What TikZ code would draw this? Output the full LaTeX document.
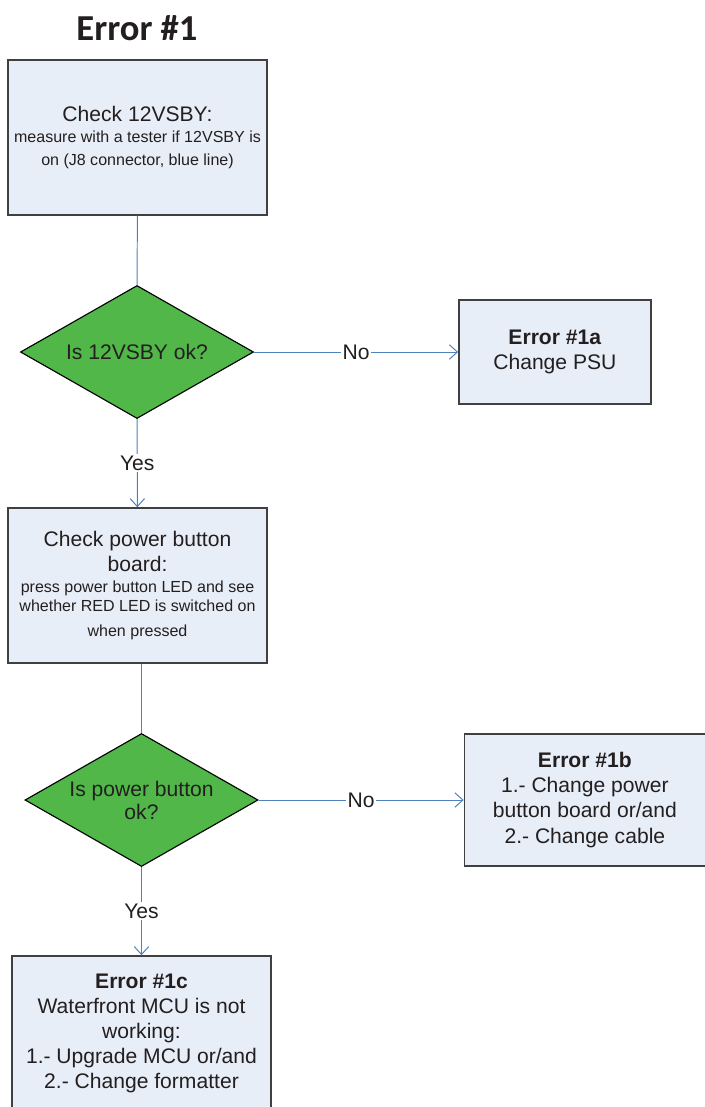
\documentclass[tikz,border=0pt]{standalone}
\usepackage{fontspec}
\setmainfont{Liberation Sans}
\newfontfamily\titlefont{Carlito}
\definecolor{boxblue}{RGB}{232, 238, 247}
\definecolor{decgreen}{RGB}{80, 183, 72}
\definecolor{linkblue}{RGB}{79, 129, 189}
\definecolor{edgegray}{RGB}{64, 64, 64}
\definecolor{inkgray}{RGB}{35, 31, 32}
\usetikzlibrary{arrows.meta, positioning, shapes.geometric}
\newcommand{\smalltext}{\fontsize{11.4}{16.4}\selectfont}
\tikzset{
	stepbox/.style={rectangle, draw=edgegray, fill=boxblue, line width=1pt, align=center, text=inkgray, minimum width=6.475cm, minimum height=3.875cm, font=\fontsize{15}{17.8}\selectfont},
	errbox/.style={rectangle, draw=edgegray, fill=boxblue, line width=1pt, align=center, text=inkgray, font=\fontsize{15}{17.8}\selectfont},
	decision/.style={diamond, draw=black, fill=decgreen, line width=0.8pt, align=center, text=inkgray, inner sep=0pt, shape aspect=1.75, minimum width=5.825cm, minimum height=3.325cm, font=\fontsize{15}{16.4}\selectfont},
	link/.style={draw=linkblue, line width=0.7pt},
	arrow/.style={link, -{Straight Barb[length=2mm, width=3.6mm]}},
	answer/.style={fill=white, inner sep=1pt, text=inkgray, font=\fontsize{15}{17.8}\selectfont},
}

\begin{document}
\begin{tikzpicture}[x=0.025cm, y=-0.025cm, node distance=5.1cm]
	\useasboundingbox (0,0) rectangle (705,1107);
	\clip (0,0) rectangle (705,1107);
	\node[text=inkgray, font=\titlefont\bfseries\fontsize{26}{30}\selectfont] (title) at (137,28) {Error \#1};
	\node[stepbox] (check12) at (137.5,137.5) {Check 12VSBY:\\[-2.9pt]\smalltext measure with a tester if 12VSBY is\\[-1.4pt]\smalltext on (J8 connector, blue line)\\[-15pt]};
	\node[decision] (ok12) at (137,352) {Is 12VSBY ok?};
	\node[errbox, right=of ok12, minimum width=4.8cm, minimum height=2.6cm] (err1a) {\textbf{Error \#1a}\\Change PSU};
	\node[stepbox] (checkbtn) at (137.5,585.5) {Check power button\\board:\\[-2.8pt]\smalltext press power button LED and see\\[-4.3pt]\smalltext whether RED LED is switched on\\[-0.1pt]\smalltext when pressed};
	\node[decision] (okbtn) at (141.5,800) {Is power button\\ok?};
	\node[errbox, right=5.125cm of okbtn, minimum width=6.025cm, minimum height=3.3cm] (err1b) {\textbf{Error \#1b}\\1.- Change power\\button board or/and\\2.- Change cable};
	\node[stepbox] (err1c) at (141.5,1033.5) {\textbf{Error \#1c}\\Waterfront MCU is not\\working:\\1.- Upgrade MCU or/and\\2.- Change formatter};
	\draw[link] (check12) -- (ok12);
	\draw[arrow] (ok12) -- node[answer] {No} (err1a);
	\draw[arrow] (ok12) -- node[answer] {Yes} (checkbtn);
	\draw[link] (checkbtn.south -| okbtn) -- (okbtn);
	\draw[arrow] (okbtn) -- node[answer] {No} (err1b);
	\draw[arrow] (okbtn) -- node[answer] {Yes} (err1c);
\end{tikzpicture}
\end{document}
